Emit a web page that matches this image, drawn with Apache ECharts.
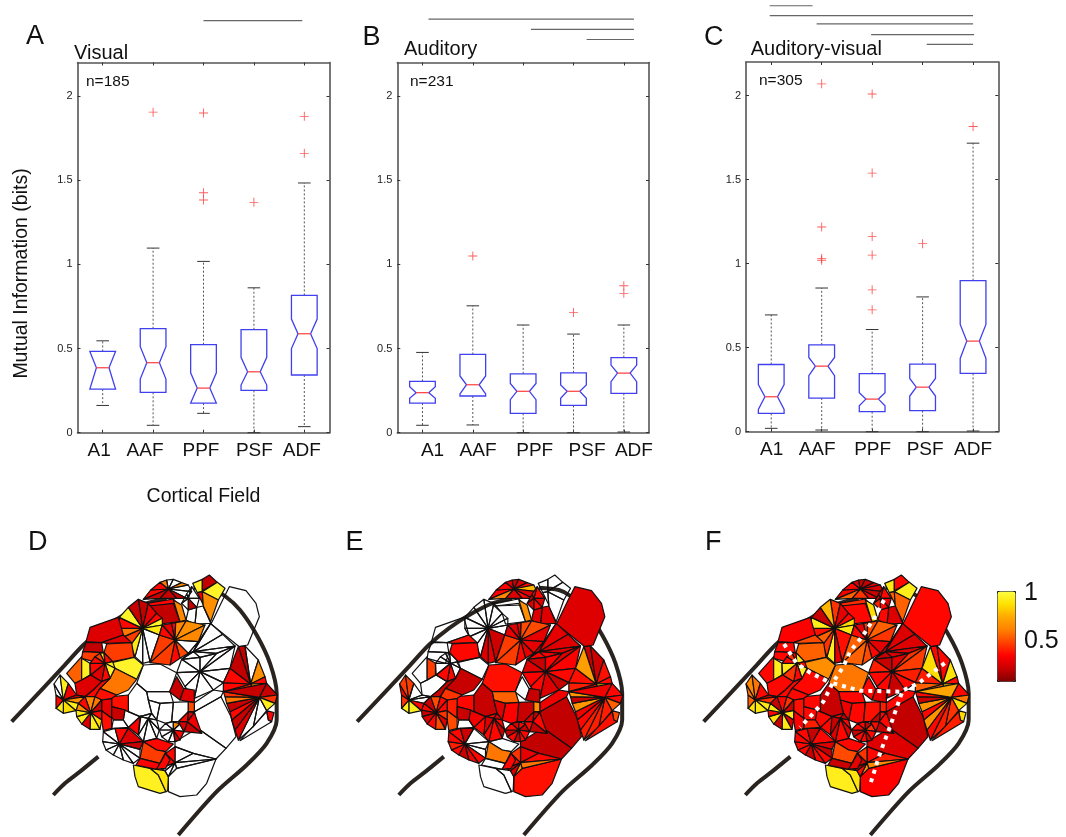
<!DOCTYPE html>
<html><head><meta charset="utf-8">
<style>html,body{margin:0;padding:0;background:#fff}#c{width:1066px;height:837px;filter:blur(.35px)}</style>
<script src="https://cdn.jsdelivr.net/npm/echarts@6/dist/echarts.min.js"></script>
</head><body><div id="c"></div>
<script>
const categories = ['A1','AAF','PPF','PSF','ADF'];
const tickValues = [0,0.5,1,1.5,2];
const fieldPositions = [1,2,3,4,5];
// label anchor positions in field units
const labelPosA = [0.93,1.84,2.95,4.01,4.95];
const labelPosB = [1.2,2.105,3.23,4.27,5.2];
const labelPosC = [1.01,1.91,3.01,4.05,5.0];
// [low, q1, notchLow, median, notchHigh, q3, high]
const boxesA = [[.162,.259,.259,.386,.483,.483,.546],[.044,.24,.319,.416,.511,.618,1.097],[.115,.176,.176,.265,.356,.523,1.018],[0,.251,.283,.362,.448,.612,.861],[.036,.343,.50,.588,.675,.816,1.484]];
const boxesB = [[.044,.176,.204,.238,.273,.305,.477],[.046,.218,.23,.285,.337,.465,.754],[0,.115,.196,.246,.293,.35,.64],[0,.162,.204,.246,.283,.356,.586],[.004,.234,.303,.354,.402,.446,.64]];
const boxesC = [[.02,.109,.133,.208,.281,.40,.695],[.01,.20,.333,.39,.442,.517,.855],[0,.119,.154,.194,.232,.345,.608],[0,.125,.212,.265,.317,.402,.802],[.004,.347,.436,.539,.638,.899,1.717]];
const outliersA = [[2,1.905],[3,1.90],[3,1.426],[3,1.383],[4,1.369],[5,1.88],[5,1.66]];
const outliersB = [[2,1.05],[4,.715],[5,.873],[5,.828]];
const outliersC = [[2,2.07],[2,1.218],[2,1.03],[2,1.02],[3,2.01],[3,1.539],[3,1.161],[3,1.051],[3,.844],[3,.725],[4,1.119],[5,1.816]];
// significance bars [from, to, level]
const sigA = [[3.0,4.96,2.449]];
const sigB = [[1.12,5.2,2.458],[3.155,5.2,2.397],[4.26,5.2,2.337]];
const sigC = [[.97,1.82,2.535],[.97,5.0,2.476],[1.9,5.0,2.427],[2.98,5.02,2.363],[4.08,5.0,2.305]];

// Cortical map, in map units. A flat list is one cell; hub + rim is a fan of cells.
const mapOutlines = [
 [688,200,738,212,768,250,778,290,743,375,718,380,633,312,668,240],
 [578,190,607,178,607,215,592,218],[607,178,628,165,652,187,607,212],[607,215,652,187,675,205,655,240],[592,218,607,215,610,255],[607,215,655,240,632,305,610,260],
 [590,262,610,258,632,310,585,312],[565,270,590,262,585,312,558,300],
 [440,250,520,237,535,255,447,258],[447,258,520,250,540,305,480,312,470,280],[520,240,545,255,558,300,540,305],
 {hub:[505,207],rim:[430,238,452,210,480,187,500,180,520,178,545,188,565,195,575,215,560,235,530,235,480,235]},
 {hub:[565,235],rim:[575,200,598,235,590,262,565,270,545,250,560,222]},
 {hub:[428,325],rim:[415,238,445,250,470,280,487,295,487,315,478,345,450,425,428,430,405,410,392,375,372,350,358,325,358,292,385,262]},
 {hub:[525,360],rim:[487,315,515,310,527,308,558,303,615,315,595,365,565,400,540,415,510,435,450,428,478,345]},
 {hub:[580,395],rim:[595,365,632,310,668,343,705,378,650,400,600,412,545,418,565,400]},
 {hub:[600,455],rim:[530,458,545,418,600,412,650,400,705,378,690,445,670,488,640,510,583,535,555,500]},
 [430,435,480,432,530,458,510,515,440,515,410,490],
 [530,470,552,508,540,540,508,515],[552,505,583,510,583,548,540,540],
 {hub:[752,492],rim:[715,380,735,378,775,420,795,470,800,490,770,530,670,515,670,488,690,445]},
 {hub:[778,532],rim:[800,490,832,525,825,550,800,572,760,620,715,660,705,630,695,600,690,575,680,550,675,530,670,515]},
 [800,572,822,578,815,605,805,600],[800,575,805,600,815,605,720,662],
 [583,575,663,530,693,590,708,650,678,685,593,625],[583,548,640,510,670,515,663,530,583,575],[525,665,593,625,678,685,648,717,580,700,525,680],[505,770,530,745,648,717,620,790,590,825,540,830,505,815],[400,735,450,745,475,765,498,815,480,820,415,800,405,770],[450,745,495,752,505,770,503,812,498,815,475,765],
 {hub:[525,728],rim:[525,680,580,700,648,717,530,745,505,770,495,752,480,745,497,700]},
 [430,665,470,655,520,672,497,695,470,690],[430,665,470,690,497,695,480,730,420,715],[420,715,480,730,470,748,408,735],[480,730,497,700,510,720,497,745,470,748],
 {hub:[358,672],rim:[310,635,345,625,385,625,430,665,420,688,420,715,400,730,370,720,340,705,318,690,308,665]},
 [385,622,423,587,415,645],
 {hub:[520,630],rim:[497,610,520,605,540,612,552,635,540,660,525,665,505,665,485,650,478,630]},
 {hub:[562,605],rim:[565,575,583,578,605,640,552,635,535,605]},
 [440,515,510,515,520,547,480,550,445,540],[410,490,440,515,445,540,455,580,420,590,385,575,385,525],[480,550,520,547,515,605,497,610,470,600],[445,540,480,550,470,600,455,580],[520,547,565,545,565,575,535,605,515,605],[565,545,583,548,583,575,565,575],
 {hub:[445,595],rim:[420,590,455,580,470,600,478,630,470,655,430,665,415,645]},
 [375,570,385,575,420,590,385,622,370,600],
 [335,530,385,525,385,575,375,570,335,560],[305,540,335,535,335,595,305,572],[335,560,375,570,370,600,340,600,335,590],[305,572,335,595,335,625,310,632,305,600],[340,600,370,600,385,622,345,625,335,625],
 [270,322,355,292,370,345,305,368,258,365],[258,368,305,368,310,398,248,395],[305,368,370,345,395,368,320,370],[320,372,395,368,402,412,338,425,312,398],[248,395,310,398,300,430,245,415],
 [335,428,402,412,430,435,410,478,345,445],[345,445,410,478,385,510,350,525,300,505,330,475],[245,410,245,480,225,490,200,460],[245,415,270,430,270,465,245,480],
 {hub:[315,430],rim:[300,400,312,398,338,425,345,445,330,475,305,485,272,465,270,430,285,410]},
 [225,490,245,480,272,465,305,485,280,510,255,530,230,525],[305,485,330,475,300,505,285,530,255,530,280,510],[300,505,350,525,335,535,305,540,285,530],
 {hub:[272,578],rim:[255,530,285,530,305,540,305,572,305,600,300,628,270,628,245,612,230,590,228,570,235,550]},
 {hub:[190,540],rim:[162,492,180,465,205,490,230,525,255,530,235,550,228,572,190,580,168,565,168,525]}
];
const n = null;
const mapValuesD = [[n],[.95,.13,.95,.25,.62],[n,n],[.3,.13,.6],
 [.3,.3,.55,n,n,.6,n,n,.14,.14,.14],[n,n,.14,n,n,n],
 [.13,.22,.3,.95,.9,n,n,n,.9,.42,.55,.3,.95,.14],
 [.22,.3,.6,.62,.6,n,.45,.3,.42,.42,.3],[n,n,n,n,n,n,n,n],[n,n,n,n,n,n,n,n,n,n],
 [n],[.14,.2],
 [.13,n,.62,.3,.7,.38,.3,.3,.13],[.14,.4,.92,n,n,.2,.14,.3,.14,.55,.4,.14],[.3,n],
 [n,n,n,n,.93,.88],[n,n,n,n,n,n,.3,.3],[.3,.42,.28,.3],[n,.3,.2,.14,n,n,n,n,n,n,n],[.28],
 [n,.6,n,.3,.14,n,n,n,n],[.2,.25,.14,.2,.3],[n,n,n,n,n,.45],[n,n,n,n,n,n,n],[n],
 [.32,.22,.14,.32,n],[.2,.13,.2,.42,.42],[.95,.55,.5,.93],[.9,.3,.9,.95,.3,.2,.3,.3,.42],[.2,.3,.32],
 [.6,.55,.14,.3,.85,.92,.2,.92,.9,.62,.3],[n,.92,.25,.14,.62,.92,.85,.92,.3,n]];
const mapValuesE = [[.2],[n,n,n,n,n],[.2,.2],[n,n,.62],
 [.28,.28,.2,.14,.2,.3,.75,.2,.3,.2,.6],[.3,.2,.3,.2,.14,.3],
 [n,n,n,n,n,.16,.22,.2,n,n,n,n,n,n],
 [.2,.25,.45,.45,.22,.22,.22,.3,.42,.42,.22],[.22,.22,.2,.2,.28,.28,.14,.2],[.2,.14,.28,.2,.28,.3,.14,.2,.3,.28],
 [.32],[n,.14],
 [.14,.16,.32,.3,.85,.25,.35,.32,.68],[.3,.3,.5,.35,.35,.35,.3,.25,.65,.14,.65,.25],[.45,.32],
 [.13,.25,.13,.32,n,n],[.22,.3,.55,.62,.2,.2,.3,.4],[n,.55,n,.3],[.3,.15,n,n,n,.3,.25,.15,.3,.35,.3],[.3],
 [.2,.3,.14,.3,.3,.14,.3,.14,.3],[.14,.3,.13,.3,.2],[.5,.14,.28,.2,.14,.62],[.3,.2,.3,.14,.3,.3,.2],[.25],
 [.3,.35,.15,.45,n],[n,n,.32,.3,n],[n,.14,n,.42],[n,n,n,n,.3,.3,n,n,n],[n,.14,.4],
 [.45,.3,.3,.4,.2,.45,.3,.2,.14,.3,.14],[.42,.42,n,n,n,.3,.92,.92,.4,.3]];
const mapValuesF = [[.3],[.9,.3,.92,.5,.5],[.2,.3],[.38,.3,.85],
 [.25,.3,.2,.14,.14,.2,.2,.14,.25,.4,.5],[.3,.2,.3,.35,.2,.25],
 [.4,.22,.3,.85,.9,.32,.22,.92,.4,.5,.32,.92,.14,.75],
 [.22,.4,.45,.5,.4,.22,.3,.45,.5,.5,.3],[.14,.2,.2,.2,.2,.14,.14,.2],[.35,.14,.2,.4,.42,.35,.3,.14,.3,.3],
 [.55],[.3,.2],
 [.3,.3,.88,.3,.9,.5,.5,.35,.85],[.3,.55,.85,.4,.35,.3,.65,.3,.65,.14,.3,.7],[.85,.35],
 [.13,.3,.2,.28,.92,.88],[.3,.35,.6,.65,.3,.15,.2,.4],[.3,.45,.15,.22],[.3,.14,.3,.2,.14,.3,.3,.14,.3,.3,.3],[.3],
 [.3,.14,.4,.3,.14,.3,.3,.14,.3],[.3,.3,.14,.3,.14],[.3,.14,.3,.25,.32,.35],[.3,.14,.3,.2,.3,.2,.14],[.3],
 [.3,.32,.3,.28,.35],[.28,.3,.45,.5,.3],[.62,.3,.3,.92],[.3,.9,.3,.92,.3,.4,.9,.3,.4],[.3,.3,.3],
 [.3,.4,.14,.9,.2,.9,.14,.88,.3,.9,.14],[.6,.55,.3,.14,.4,.9,.9,.88,.5,.55]];
const sulcusUpper = [[35,605],[120,515],[190,440],[250,375],[310,325],[380,280],[440,250],[500,236]];
const sulcusRight = [[580,203],[640,210],[675,228],[720,270],[770,345],[810,430],[830,520],[830,600],[800,670],[740,735],[650,815],[535,945]];
const sulcusLower = [[160,825],[195,790],[240,755],[295,710]];
const borderLines = [
 [[576,240],[549,290],[514,345],[474,395],[454,440],[424,485],[394,545],[364,580],[324,622]],
 [[276,372],[314,430],[354,458],[409,485]],
 [[424,490],[504,512],[624,515],[679,490],[764,425]],
 [[629,520],[594,620],[564,700],[534,795]]
];
const colorbarStops = ['#800000','#c80000','#ff0000','#ff4000','#ff8000','#ffa800','#ffe000','#ffff40'];

const FONT = '"Liberation Sans",Arial,sans-serif';
const boxHalf=.255, notchHalf=.125, capHalf=.125;
const grids=[],xAxes=[],yAxes=[],series=[];
function boxPanel(left,top,w,h,boxes,outliers,sig,labelPos,withName){
  const gi=grids.length;
  grids.push({left,top,width:w,height:h});
  const xa=xAxes.length,ya=yAxes.length;
  const lineStyle={color:'#555',width:1.6};
  xAxes.push({gridIndex:gi,type:'value',min:.5,max:5.5,position:'bottom',splitLine:{show:false},
    axisLine:{show:true,onZero:false,lineStyle},
    axisTick:{show:true,inside:true,length:3,customValues:fieldPositions,lineStyle:{color:'#333'}},
    axisLabel:{show:true,customValues:labelPos,margin:9,fontSize:19,color:'#111',fontFamily:FONT,hideOverlap:false,
      formatter:v=>categories[labelPos.indexOf(v)]},
    ...(withName?{name:'Cortical Field',nameLocation:'middle',nameGap:54,nameTextStyle:{fontSize:19.5,color:'#111',fontFamily:FONT}}:{})});
  xAxes.push({gridIndex:gi,type:'value',min:.5,max:5.5,position:'top',splitLine:{show:false},
    axisLine:{show:true,onZero:false,lineStyle},
    axisTick:{show:true,inside:true,length:3,customValues:fieldPositions,lineStyle:{color:'#333'}},axisLabel:{show:false}});
  yAxes.push({gridIndex:gi,type:'value',min:0,max:2.2,position:'left',splitLine:{show:false},
    axisLine:{show:true,onZero:false,lineStyle},
    axisTick:{show:true,inside:true,length:3,customValues:tickValues,lineStyle:{color:'#333'}},
    axisLabel:{show:true,customValues:tickValues,margin:5,fontSize:11,color:'#222',fontFamily:FONT}});
  yAxes.push({gridIndex:gi,type:'value',min:0,max:2.2,position:'right',splitLine:{show:false},
    axisLine:{show:true,onZero:false,lineStyle},
    axisTick:{show:true,inside:true,length:3,customValues:tickValues,lineStyle:{color:'#333'}},axisLabel:{show:false}});
  series.push({type:'custom',xAxisIndex:xa,yAxisIndex:ya,clip:false,silent:true,
    data:boxes.map((b,i)=>[i+1,...b]),
    encode:{x:0,y:[1,2,3,4,5,6,7]},
    renderItem(p,api){
      const x=api.value(0),low=api.value(1),q1=api.value(2),nl=api.value(3),med=api.value(4),nh=api.value(5),q3=api.value(6),hi=api.value(7);
      const c=(a,b)=>api.coord([a,b]);
      const ln=(a,b,style)=>({type:'line',shape:{x1:a[0],y1:a[1],x2:b[0],y2:b[1]},style});
      const wh={stroke:'#555',lineWidth:1,lineDash:[2,2]},cap={stroke:'#333',lineWidth:1};
      const outline=[[x-boxHalf,q1],[x+boxHalf,q1],[x+boxHalf,nl],[x+notchHalf,med],[x+boxHalf,nh],[x+boxHalf,q3],[x-boxHalf,q3],[x-boxHalf,nh],[x-notchHalf,med],[x-boxHalf,nl]].map(q=>c(q[0],q[1]));
      return {type:'group',children:[
        ln(c(x,q3),c(x,hi),wh),ln(c(x,q1),c(x,low),wh),
        ln(c(x-capHalf,hi),c(x+capHalf,hi),cap),ln(c(x-capHalf,low),c(x+capHalf,low),cap),
        {type:'polygon',shape:{points:outline},style:{fill:'none',stroke:'#4040f0',lineWidth:1.3}},
        ln(c(x-notchHalf,med),c(x+notchHalf,med),{stroke:'#ff4a4a',lineWidth:1.3})
      ]};
    }});
  series.push({type:'scatter',xAxisIndex:xa,yAxisIndex:ya,silent:true,data:outliers,symbolSize:9,
    symbol:'path://M4.5 0H5.5V4.5H10V5.5H5.5V10H4.5V5.5H0V4.5H4.5Z',itemStyle:{color:'#f33'}});
  series.push({type:'custom',xAxisIndex:xa,yAxisIndex:ya,clip:false,silent:true,data:sig,encode:{x:[0,1],y:2},
    renderItem(p,api){const a=api.coord([api.value(0),api.value(2)]),b=api.coord([api.value(1),api.value(2)]);
      return {type:'line',shape:{x1:a[0],y1:a[1],x2:b[0],y2:b[1]},style:{stroke:'#666',lineWidth:1.1}};}});
}
boxPanel(77.5,62.5,252,370.2,boxesA,outliersA,sigA,labelPosA,true);
boxPanel(397.3,62.5,251.7,370.2,boxesB,outliersB,sigB,labelPosB,false);
boxPanel(746,62,252.3,369.7,boxesC,outliersC,sigC,labelPosC,false);

const flat2pts=f=>{const r=[];for(let i=0;i<f.length;i+=2)r.push([f[i],f[i+1]]);return r;};
const mapPolys=[];
mapOutlines.forEach(o=>{
  if(Array.isArray(o)){mapPolys.push(flat2pts(o));return;}
  const rim=flat2pts(o.rim);
  rim.forEach((p,i)=>mapPolys.push([o.hub,p,rim[(i+1)%rim.length]]));
});
const mapSeriesIdx=[];
function mapPanel(left,valueGroups,withBorders){
  const gi=grids.length;
  grids.push({left,top:520,width:340,height:317});
  const xa=xAxes.length,ya=yAxes.length;
  xAxes.push({gridIndex:gi,type:'value',min:0,max:1020,show:false});
  yAxes.push({gridIndex:gi,type:'value',min:0,max:951,inverse:true,show:false});
  [sulcusUpper,sulcusRight,sulcusLower].forEach(d=>series.push({type:'line',xAxisIndex:xa,yAxisIndex:ya,data:d,smooth:.3,symbol:'none',silent:true,clip:false,z:1,
    lineStyle:{color:'#2a2420',width:4,cap:'butt'}}));
  const vals=valueGroups.flat();
  mapSeriesIdx.push(series.length);
  series.push({type:'custom',xAxisIndex:xa,yAxisIndex:ya,clip:false,silent:true,z:2,
    dimensions:['cell','value'],encode:{x:0,y:0},
    data:mapPolys.map((_,i)=>[i,vals[i]==null?'-':vals[i]]),
    renderItem(p,api){
      const i=api.value(0),v=api.value(1);
      return {type:'polygon',shape:{points:mapPolys[i].map(q=>api.coord(q))},
        style:{fill:(v==null||isNaN(v))?'none':api.visual('color'),stroke:'#111',lineWidth:1.2,lineJoin:'round'}};
    }});
  if(withBorders) borderLines.forEach(d=>series.push({type:'line',xAxisIndex:xa,yAxisIndex:ya,data:d,symbol:'none',silent:true,clip:false,z:3,
    lineStyle:{color:'#fff',width:4,type:[4,5]}}));
}
mapPanel(0,mapValuesD,false);
mapPanel(345.5,mapValuesE,false);
mapPanel(692,mapValuesF,true);

const txt=(text,x,y,size,extra={})=>({type:'text',x,y,silent:true,style:{text,fontSize:size,fontFamily:FONT,fill:'#111',textVerticalAlign:'middle',...extra}});
const graphic=[
  txt('A',26,37,27),txt('B',362.5,38,27),txt('C',704,38,27),txt('D',28,543,27),txt('E',345.5,543,27),txt('F',705,543,27),
  txt('Visual',74,53,20),txt('Auditory',404,49,20),txt('Auditory-visual',750.7,49,20),
  txt('n=185',86,82,15.5),txt('n=231',410,81.5,15.5),txt('n=305',759,80.5,15.5),
  {type:'text',x:22,y:273.5,rotation:Math.PI/2,silent:true,style:{text:'Mutual Information (bits)',fontSize:19.5,fontFamily:FONT,fill:'#111',textAlign:'center',textVerticalAlign:'middle'}},
  txt('1',1024,593,25),txt('0.5',1024,641,25)
];
const chart=echarts.init(document.getElementById('c'),null,{renderer:'canvas'});
chart.setOption({animation:false,backgroundColor:'#fff',grid:grids,xAxis:xAxes,yAxis:yAxes,series,graphic,tooltip:{show:false},
  visualMap:{type:'continuous',show:true,seriesIndex:mapSeriesIdx,dimension:1,min:0,max:1,calculable:false,realtime:false,hoverLink:false,
    left:997,top:591,itemWidth:18,itemHeight:90,padding:0,borderColor:'#111',borderWidth:1,text:null,showLabel:false,
    textStyle:{fontSize:0,color:'transparent'},inRange:{color:colorbarStops},outOfRange:{color:'#fff'}}});
</script></body></html>
